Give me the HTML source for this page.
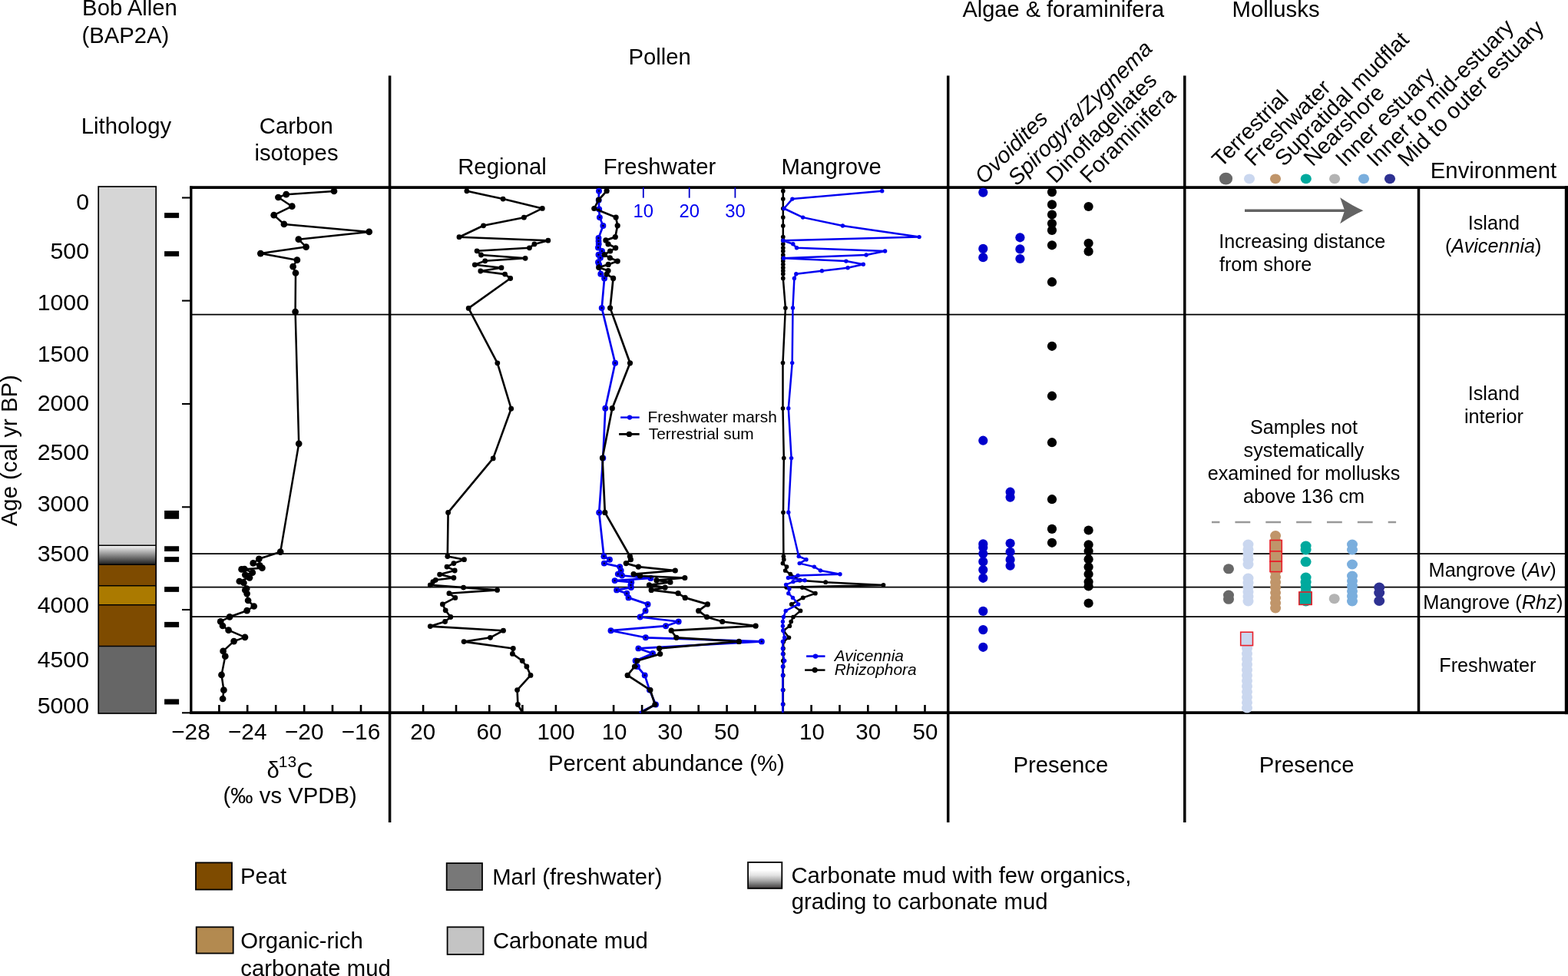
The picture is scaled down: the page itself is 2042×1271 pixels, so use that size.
<!DOCTYPE html><html><head><meta charset="utf-8"><title>Bob Allen BAP2A</title><style>html,body{margin:0;padding:0;background:#fff;}svg{display:block;}text{font-family:"Liberation Sans", Arial, Helvetica, sans-serif;}</style></head><body>
<svg width="2042" height="1271" viewBox="0 0 2042 1271">
<defs><linearGradient id="gr1" x1="0" y1="0" x2="0" y2="1"><stop offset="0" stop-color="#f8f8f8"/><stop offset="0.3" stop-color="#b8b8b8"/><stop offset="0.65" stop-color="#6a6a6a"/><stop offset="1" stop-color="#1e1e1e"/></linearGradient><linearGradient id="gr2" x1="0" y1="0" x2="0" y2="1"><stop offset="0" stop-color="#ffffff"/><stop offset="0.3" stop-color="#ffffff"/><stop offset="0.5" stop-color="#e2e2e2"/><stop offset="0.7" stop-color="#aaaaaa"/><stop offset="0.85" stop-color="#737373"/><stop offset="1" stop-color="#3c3838"/></linearGradient></defs>
<rect width="2042" height="1271" fill="#fff"/>
<text x="107.1" y="20.4" font-size="29.3" fill="#000">Bob Allen</text>
<text x="106.38" y="55.5" font-size="29.3" fill="#000">(BAP2A)</text>
<text x="105.8" y="174.4" font-size="29.3" fill="#000">Lithology</text>
<text x="385.8" y="174.4" font-size="29.3" text-anchor="middle" fill="#000">Carbon</text>
<text x="386" y="208.8" font-size="29.3" text-anchor="middle" fill="#000">isotopes</text>
<text x="818.4" y="84.2" font-size="29.3" fill="#000">Pollen</text>
<text x="596.2" y="227" font-size="29.3" fill="#000">Regional</text>
<text x="785.7" y="227" font-size="29.3" fill="#000">Freshwater</text>
<text x="1017.6" y="227" font-size="29.3" fill="#000">Mangrove</text>
<text x="1253.44" y="22.2" font-size="29.0" fill="#000">Algae &amp; foraminifera</text>
<text x="1604.6" y="22.2" font-size="29.3" fill="#000">Mollusks</text>
<text x="1862.8" y="231.9" font-size="29.3" fill="#000">Environment</text>
<rect x="128.2" y="243" width="75" height="467.3" fill="#d6d6d6" stroke="none" stroke-width="0"/>
<rect x="128.2" y="710.3" width="75" height="24.9" fill="url(#gr1)" stroke="none" stroke-width="0"/>
<rect x="128.2" y="735.2" width="75" height="27.6" fill="#7e4b00" stroke="none" stroke-width="0"/>
<rect x="128.2" y="762.8" width="75" height="25" fill="#ab7a00" stroke="none" stroke-width="0"/>
<rect x="128.2" y="787.8" width="75" height="53.7" fill="#7e4b00" stroke="none" stroke-width="0"/>
<rect x="128.2" y="841.5" width="75" height="87.5" fill="#666666" stroke="none" stroke-width="0"/>
<line x1="128.2" y1="710.3" x2="203.2" y2="710.3" stroke="#000" stroke-width="1.6"/>
<line x1="128.2" y1="735.2" x2="203.2" y2="735.2" stroke="#000" stroke-width="1.6"/>
<line x1="128.2" y1="762.8" x2="203.2" y2="762.8" stroke="#000" stroke-width="1.6"/>
<line x1="128.2" y1="787.8" x2="203.2" y2="787.8" stroke="#000" stroke-width="1.6"/>
<line x1="128.2" y1="841.5" x2="203.2" y2="841.5" stroke="#000" stroke-width="1.6"/>
<rect x="128.2" y="243" width="75" height="686" fill="none" stroke="#000" stroke-width="1.7"/>
<rect x="214.1" y="277.15" width="19" height="6.7" fill="#000" stroke="none" stroke-width="0"/>
<rect x="214.1" y="327.15" width="19" height="6.7" fill="#000" stroke="none" stroke-width="0"/>
<rect x="214.1" y="664.9" width="19" height="10.9" fill="#000" stroke="none" stroke-width="0"/>
<rect x="214.1" y="711.25" width="19" height="6.8" fill="#000" stroke="none" stroke-width="0"/>
<rect x="214.1" y="725.15" width="19" height="6.7" fill="#000" stroke="none" stroke-width="0"/>
<rect x="214.1" y="764.15" width="19" height="6.7" fill="#000" stroke="none" stroke-width="0"/>
<rect x="214.1" y="809.9" width="19" height="7" fill="#000" stroke="none" stroke-width="0"/>
<rect x="214.1" y="910.4" width="19" height="7" fill="#000" stroke="none" stroke-width="0"/>
<text x="116.08" y="272.5" font-size="30.3" text-anchor="end" fill="#000">0</text>
<text x="116.08" y="337.3" font-size="30.3" text-anchor="end" fill="#000">500</text>
<text x="116.08" y="404.4" font-size="30.3" text-anchor="end" fill="#000">1000</text>
<text x="116.08" y="470.9" font-size="30.3" text-anchor="end" fill="#000">1500</text>
<text x="116.08" y="535.2" font-size="30.3" text-anchor="end" fill="#000">2000</text>
<text x="116.08" y="599.4" font-size="30.3" text-anchor="end" fill="#000">2500</text>
<text x="116.08" y="666.1" font-size="30.3" text-anchor="end" fill="#000">3000</text>
<text x="116.08" y="730.6" font-size="30.3" text-anchor="end" fill="#000">3500</text>
<text x="116.08" y="797.9" font-size="30.3" text-anchor="end" fill="#000">4000</text>
<text x="116.08" y="868.6" font-size="30.3" text-anchor="end" fill="#000">4500</text>
<text x="116.08" y="929" font-size="30.3" text-anchor="end" fill="#000">5000</text>
<text x="0" y="0" font-size="29.3" text-anchor="middle" transform="translate(21.7,586.7) rotate(-90)">Age (cal yr BP)</text>
<line x1="237" y1="257.5" x2="249.5" y2="257.5" stroke="#000" stroke-width="2.1"/>
<line x1="237" y1="391.6" x2="249.5" y2="391.6" stroke="#000" stroke-width="2.1"/>
<line x1="237" y1="526" x2="249.5" y2="526" stroke="#000" stroke-width="2.1"/>
<line x1="237" y1="660.3" x2="249.5" y2="660.3" stroke="#000" stroke-width="2.1"/>
<line x1="237" y1="794" x2="249.5" y2="794" stroke="#000" stroke-width="2.1"/>
<line x1="249.5" y1="409.7" x2="2039.5" y2="409.7" stroke="#000" stroke-width="1.75"/>
<line x1="249.5" y1="721" x2="2039.5" y2="721" stroke="#000" stroke-width="1.75"/>
<line x1="249.5" y1="764.7" x2="2039.5" y2="764.7" stroke="#000" stroke-width="1.75"/>
<line x1="249.5" y1="803" x2="2039.5" y2="803" stroke="#000" stroke-width="1.75"/>
<line x1="247.2" y1="244.2" x2="2042" y2="244.2" stroke="#000" stroke-width="3.7"/>
<line x1="237" y1="928.3" x2="248" y2="928.3" stroke="#000" stroke-width="2.1"/>
<line x1="247.2" y1="928.2" x2="2041.5" y2="928.2" stroke="#000" stroke-width="3.8"/>
<line x1="248.8" y1="242.6" x2="248.8" y2="929.8" stroke="#000" stroke-width="3.3"/>
<line x1="507.6" y1="98.5" x2="507.6" y2="1071" stroke="#000" stroke-width="3.5"/>
<line x1="1234.7" y1="98.5" x2="1234.7" y2="1071" stroke="#000" stroke-width="3.5"/>
<line x1="1542.8" y1="98.5" x2="1542.8" y2="1071" stroke="#000" stroke-width="3.5"/>
<line x1="1847.5" y1="243" x2="1847.5" y2="929.5" stroke="#000" stroke-width="3.5"/>
<rect x="2037.8" y="242.4" width="4.5" height="687.8" fill="#000" stroke="none" stroke-width="0"/>
<polyline points="435,248.9 372.7,253.2 362.4,257 380.3,268.7 356.7,280.2 369.9,291.9 480.7,301.9 388.8,311.7 398.6,321.6 339.3,330.1 386.9,338.7 381.6,347.2 385,355.5 384.6,406.1 389.2,577.8 365.2,718.7 337.3,727.8 329.7,733.4 338.2,736.3 341.4,739.7 314.6,741.4 318.4,741 328.8,745.7 319.3,748.6 325,752.3 311.8,757 317.4,759 321.2,766.5 319.3,768.4 321.6,773.1 323.1,782 330.7,789.5 321.6,795.2 299.1,803.3 287.2,809.4 290,815 297.6,820.7 319,829.8 304.6,835.1 290.6,847.9 293.3,854.7 288.5,878.9 291.4,898.7 290.1,910" fill="none" stroke="#000" stroke-width="2.5" stroke-linejoin="round"/>
<circle cx="435" cy="248.9" r="4.35" fill="#000"/>
<circle cx="372.7" cy="253.2" r="4.35" fill="#000"/>
<circle cx="362.4" cy="257" r="4.35" fill="#000"/>
<circle cx="380.3" cy="268.7" r="4.35" fill="#000"/>
<circle cx="356.7" cy="280.2" r="4.35" fill="#000"/>
<circle cx="369.9" cy="291.9" r="4.35" fill="#000"/>
<circle cx="480.7" cy="301.9" r="4.35" fill="#000"/>
<circle cx="388.8" cy="311.7" r="4.35" fill="#000"/>
<circle cx="398.6" cy="321.6" r="4.35" fill="#000"/>
<circle cx="339.3" cy="330.1" r="4.35" fill="#000"/>
<circle cx="386.9" cy="338.7" r="4.35" fill="#000"/>
<circle cx="381.6" cy="347.2" r="4.35" fill="#000"/>
<circle cx="385" cy="355.5" r="4.35" fill="#000"/>
<circle cx="384.6" cy="406.1" r="4.35" fill="#000"/>
<circle cx="389.2" cy="577.8" r="4.35" fill="#000"/>
<circle cx="365.2" cy="718.7" r="4.35" fill="#000"/>
<circle cx="337.3" cy="727.8" r="4.35" fill="#000"/>
<circle cx="329.7" cy="733.4" r="4.35" fill="#000"/>
<circle cx="338.2" cy="736.3" r="4.35" fill="#000"/>
<circle cx="341.4" cy="739.7" r="4.35" fill="#000"/>
<circle cx="314.6" cy="741.4" r="4.35" fill="#000"/>
<circle cx="318.4" cy="741" r="4.35" fill="#000"/>
<circle cx="328.8" cy="745.7" r="4.35" fill="#000"/>
<circle cx="319.3" cy="748.6" r="4.35" fill="#000"/>
<circle cx="325" cy="752.3" r="4.35" fill="#000"/>
<circle cx="311.8" cy="757" r="4.35" fill="#000"/>
<circle cx="317.4" cy="759" r="4.35" fill="#000"/>
<circle cx="321.2" cy="766.5" r="4.35" fill="#000"/>
<circle cx="319.3" cy="768.4" r="4.35" fill="#000"/>
<circle cx="321.6" cy="773.1" r="4.35" fill="#000"/>
<circle cx="323.1" cy="782" r="4.35" fill="#000"/>
<circle cx="330.7" cy="789.5" r="4.35" fill="#000"/>
<circle cx="321.6" cy="795.2" r="4.35" fill="#000"/>
<circle cx="299.1" cy="803.3" r="4.35" fill="#000"/>
<circle cx="287.2" cy="809.4" r="4.35" fill="#000"/>
<circle cx="290" cy="815" r="4.35" fill="#000"/>
<circle cx="297.6" cy="820.7" r="4.35" fill="#000"/>
<circle cx="319" cy="829.8" r="4.35" fill="#000"/>
<circle cx="304.6" cy="835.1" r="4.35" fill="#000"/>
<circle cx="290.6" cy="847.9" r="4.35" fill="#000"/>
<circle cx="293.3" cy="854.7" r="4.35" fill="#000"/>
<circle cx="288.5" cy="878.9" r="4.35" fill="#000"/>
<circle cx="291.4" cy="898.7" r="4.35" fill="#000"/>
<circle cx="290.1" cy="910" r="4.35" fill="#000"/>
<line x1="285.4" y1="918" x2="285.4" y2="928" stroke="#000" stroke-width="2.6"/>
<line x1="322.2" y1="918" x2="322.2" y2="928" stroke="#000" stroke-width="2.6"/>
<line x1="359.2" y1="918" x2="359.2" y2="928" stroke="#000" stroke-width="2.6"/>
<line x1="396.2" y1="918" x2="396.2" y2="928" stroke="#000" stroke-width="2.6"/>
<line x1="433" y1="918" x2="433" y2="928" stroke="#000" stroke-width="2.6"/>
<line x1="470" y1="918" x2="470" y2="928" stroke="#000" stroke-width="2.6"/>
<text x="248.5" y="963.3" font-size="29.8" text-anchor="middle" fill="#000">−28</text>
<text x="322.2" y="963.3" font-size="29.8" text-anchor="middle" fill="#000">−24</text>
<text x="396.2" y="963.3" font-size="29.8" text-anchor="middle" fill="#000">−20</text>
<text x="470" y="963.3" font-size="29.8" text-anchor="middle" fill="#000">−16</text>
<text x="347.6" y="1013.2" font-size="29.3">δ</text>
<text x="362.8" y="999.2" font-size="21">13</text>
<text x="386.5" y="1013.2" font-size="29.3">C</text>
<text x="377.7" y="1046" font-size="29.3" text-anchor="middle" fill="#000">(‰ vs VPDB)</text>
<polyline points="607.9,248.8 655.1,259.1 706.3,271.4 682.4,283.2 629.6,293.8 598,308.7 713.8,313.2 695.9,317.9 689.5,322.8 621.1,326.8 626.5,332 684.1,336.3 631.7,339.8 618.3,344.8 653,348.7 625.8,353 657.6,357.1 664.7,362.5 610.2,401.4 647.8,472.8 665.7,532.2 642.2,596.9 583.6,667.4 582.8,724.5 604.5,728.7 590.9,733.6 582,738.1 592.2,743 572.6,748.1 590.9,752.5 567.3,755.3 563.9,757.6 560.3,761.9 603.6,765.1 647.6,768.4 584.9,772.7 592.8,778.4 576.4,786.9 580.2,794.8 586.8,803.5 579.6,809.5 560.3,815.6 655.5,821.2 638.5,830.3 604.1,835.6 668.3,844.5 667.4,851.4 680.2,860.5 685.9,868 691,879.4 673.6,898.6 674.4,917.5 679.7,927" fill="none" stroke="#000" stroke-width="2.6" stroke-linejoin="round"/>
<circle cx="607.9" cy="248.8" r="3.4" fill="#000"/>
<circle cx="655.1" cy="259.1" r="3.4" fill="#000"/>
<circle cx="706.3" cy="271.4" r="3.4" fill="#000"/>
<circle cx="682.4" cy="283.2" r="3.4" fill="#000"/>
<circle cx="629.6" cy="293.8" r="3.4" fill="#000"/>
<circle cx="598" cy="308.7" r="3.4" fill="#000"/>
<circle cx="713.8" cy="313.2" r="3.4" fill="#000"/>
<circle cx="695.9" cy="317.9" r="3.4" fill="#000"/>
<circle cx="689.5" cy="322.8" r="3.4" fill="#000"/>
<circle cx="621.1" cy="326.8" r="3.4" fill="#000"/>
<circle cx="626.5" cy="332" r="3.4" fill="#000"/>
<circle cx="684.1" cy="336.3" r="3.4" fill="#000"/>
<circle cx="631.7" cy="339.8" r="3.4" fill="#000"/>
<circle cx="618.3" cy="344.8" r="3.4" fill="#000"/>
<circle cx="653" cy="348.7" r="3.4" fill="#000"/>
<circle cx="625.8" cy="353" r="3.4" fill="#000"/>
<circle cx="657.6" cy="357.1" r="3.4" fill="#000"/>
<circle cx="664.7" cy="362.5" r="3.4" fill="#000"/>
<circle cx="610.2" cy="401.4" r="3.4" fill="#000"/>
<circle cx="647.8" cy="472.8" r="3.4" fill="#000"/>
<circle cx="665.7" cy="532.2" r="3.4" fill="#000"/>
<circle cx="642.2" cy="596.9" r="3.4" fill="#000"/>
<circle cx="583.6" cy="667.4" r="3.4" fill="#000"/>
<circle cx="582.8" cy="724.5" r="3.4" fill="#000"/>
<circle cx="604.5" cy="728.7" r="3.4" fill="#000"/>
<circle cx="590.9" cy="733.6" r="3.4" fill="#000"/>
<circle cx="582" cy="738.1" r="3.4" fill="#000"/>
<circle cx="592.2" cy="743" r="3.4" fill="#000"/>
<circle cx="572.6" cy="748.1" r="3.4" fill="#000"/>
<circle cx="590.9" cy="752.5" r="3.4" fill="#000"/>
<circle cx="567.3" cy="755.3" r="3.4" fill="#000"/>
<circle cx="563.9" cy="757.6" r="3.4" fill="#000"/>
<circle cx="560.3" cy="761.9" r="3.4" fill="#000"/>
<circle cx="603.6" cy="765.1" r="3.4" fill="#000"/>
<circle cx="647.6" cy="768.4" r="3.4" fill="#000"/>
<circle cx="584.9" cy="772.7" r="3.4" fill="#000"/>
<circle cx="592.8" cy="778.4" r="3.4" fill="#000"/>
<circle cx="576.4" cy="786.9" r="3.4" fill="#000"/>
<circle cx="580.2" cy="794.8" r="3.4" fill="#000"/>
<circle cx="586.8" cy="803.5" r="3.4" fill="#000"/>
<circle cx="579.6" cy="809.5" r="3.4" fill="#000"/>
<circle cx="560.3" cy="815.6" r="3.4" fill="#000"/>
<circle cx="655.5" cy="821.2" r="3.4" fill="#000"/>
<circle cx="638.5" cy="830.3" r="3.4" fill="#000"/>
<circle cx="604.1" cy="835.6" r="3.4" fill="#000"/>
<circle cx="668.3" cy="844.5" r="3.4" fill="#000"/>
<circle cx="667.4" cy="851.4" r="3.4" fill="#000"/>
<circle cx="680.2" cy="860.5" r="3.4" fill="#000"/>
<circle cx="685.9" cy="868" r="3.4" fill="#000"/>
<circle cx="691" cy="879.4" r="3.4" fill="#000"/>
<circle cx="673.6" cy="898.6" r="3.4" fill="#000"/>
<circle cx="674.4" cy="917.5" r="3.4" fill="#000"/>
<polyline points="780,248.7 779.7,260.8 780.2,272.5 780.9,283.1 785.4,294 779.5,310 779.5,313.9 779.7,317.8 779,322.5 784,327 779.5,331.7 781.9,335.8 779,341.5 780.2,344.7 782.3,356.8 787.1,362.4 783.7,401.1 801.1,472.8 788.3,531.7 785.3,596.4 780.2,667.4 786.4,724.5 794,728.7 786.8,733.6 807.2,738.1 808.7,743 804.8,747.6 810,749.5 847.4,752.9 800.6,756.1 822.3,758.2 821.4,761.9 821.9,765.1 803.1,768.4 816.3,772.7 818.5,778.4 843.6,786.9 840.6,795.4 833.6,803.5 883.7,809.5 867.1,815.2 795.5,821.2 840.8,830.3 991.9,835.4 831.4,844.4 850.1,851 827.6,860.5 829.9,868 839.7,879.4 845.9,898.6 854,917.5 832.7,928" fill="none" stroke="#0000f0" stroke-width="2.7" stroke-linejoin="round"/>
<circle cx="780" cy="248.7" r="3.95" fill="#0000f0"/>
<circle cx="779.7" cy="260.8" r="3.95" fill="#0000f0"/>
<circle cx="780.2" cy="272.5" r="3.95" fill="#0000f0"/>
<circle cx="780.9" cy="283.1" r="3.95" fill="#0000f0"/>
<circle cx="785.4" cy="294" r="3.95" fill="#0000f0"/>
<circle cx="779.5" cy="310" r="3.95" fill="#0000f0"/>
<circle cx="779.5" cy="313.9" r="3.95" fill="#0000f0"/>
<circle cx="779.7" cy="317.8" r="3.95" fill="#0000f0"/>
<circle cx="779" cy="322.5" r="3.95" fill="#0000f0"/>
<circle cx="784" cy="327" r="3.95" fill="#0000f0"/>
<circle cx="779.5" cy="331.7" r="3.95" fill="#0000f0"/>
<circle cx="781.9" cy="335.8" r="3.95" fill="#0000f0"/>
<circle cx="779" cy="341.5" r="3.95" fill="#0000f0"/>
<circle cx="780.2" cy="344.7" r="3.95" fill="#0000f0"/>
<circle cx="782.3" cy="356.8" r="3.95" fill="#0000f0"/>
<circle cx="787.1" cy="362.4" r="3.95" fill="#0000f0"/>
<circle cx="783.7" cy="401.1" r="3.95" fill="#0000f0"/>
<circle cx="801.1" cy="472.8" r="3.95" fill="#0000f0"/>
<circle cx="788.3" cy="531.7" r="3.95" fill="#0000f0"/>
<circle cx="785.3" cy="596.4" r="3.95" fill="#0000f0"/>
<circle cx="780.2" cy="667.4" r="3.95" fill="#0000f0"/>
<circle cx="786.4" cy="724.5" r="3.95" fill="#0000f0"/>
<circle cx="794" cy="728.7" r="3.95" fill="#0000f0"/>
<circle cx="786.8" cy="733.6" r="3.95" fill="#0000f0"/>
<circle cx="807.2" cy="738.1" r="3.95" fill="#0000f0"/>
<circle cx="808.7" cy="743" r="3.95" fill="#0000f0"/>
<circle cx="804.8" cy="747.6" r="3.95" fill="#0000f0"/>
<circle cx="810" cy="749.5" r="3.95" fill="#0000f0"/>
<circle cx="847.4" cy="752.9" r="3.95" fill="#0000f0"/>
<circle cx="800.6" cy="756.1" r="3.95" fill="#0000f0"/>
<circle cx="822.3" cy="758.2" r="3.95" fill="#0000f0"/>
<circle cx="821.4" cy="761.9" r="3.95" fill="#0000f0"/>
<circle cx="821.9" cy="765.1" r="3.95" fill="#0000f0"/>
<circle cx="803.1" cy="768.4" r="3.95" fill="#0000f0"/>
<circle cx="816.3" cy="772.7" r="3.95" fill="#0000f0"/>
<circle cx="818.5" cy="778.4" r="3.95" fill="#0000f0"/>
<circle cx="843.6" cy="786.9" r="3.95" fill="#0000f0"/>
<circle cx="840.6" cy="795.4" r="3.95" fill="#0000f0"/>
<circle cx="833.6" cy="803.5" r="3.95" fill="#0000f0"/>
<circle cx="883.7" cy="809.5" r="3.95" fill="#0000f0"/>
<circle cx="867.1" cy="815.2" r="3.95" fill="#0000f0"/>
<circle cx="795.5" cy="821.2" r="3.95" fill="#0000f0"/>
<circle cx="840.8" cy="830.3" r="3.95" fill="#0000f0"/>
<circle cx="991.9" cy="835.4" r="3.95" fill="#0000f0"/>
<circle cx="831.4" cy="844.4" r="3.95" fill="#0000f0"/>
<circle cx="850.1" cy="851" r="3.95" fill="#0000f0"/>
<circle cx="827.6" cy="860.5" r="3.95" fill="#0000f0"/>
<circle cx="829.9" cy="868" r="3.95" fill="#0000f0"/>
<circle cx="839.7" cy="879.4" r="3.95" fill="#0000f0"/>
<circle cx="845.9" cy="898.6" r="3.95" fill="#0000f0"/>
<circle cx="854" cy="917.5" r="3.95" fill="#0000f0"/>
<circle cx="780" cy="248.7" r="1.15" fill="#000018"/>
<circle cx="779.7" cy="260.8" r="1.15" fill="#000018"/>
<circle cx="780.2" cy="272.5" r="1.15" fill="#000018"/>
<circle cx="780.9" cy="283.1" r="1.15" fill="#000018"/>
<circle cx="785.4" cy="294" r="1.15" fill="#000018"/>
<circle cx="779.5" cy="310" r="1.15" fill="#000018"/>
<circle cx="779.5" cy="313.9" r="1.15" fill="#000018"/>
<circle cx="779.7" cy="317.8" r="1.15" fill="#000018"/>
<circle cx="779" cy="322.5" r="1.15" fill="#000018"/>
<circle cx="784" cy="327" r="1.15" fill="#000018"/>
<circle cx="779.5" cy="331.7" r="1.15" fill="#000018"/>
<circle cx="781.9" cy="335.8" r="1.15" fill="#000018"/>
<circle cx="779" cy="341.5" r="1.15" fill="#000018"/>
<circle cx="780.2" cy="344.7" r="1.15" fill="#000018"/>
<circle cx="782.3" cy="356.8" r="1.15" fill="#000018"/>
<circle cx="787.1" cy="362.4" r="1.15" fill="#000018"/>
<circle cx="783.7" cy="401.1" r="1.15" fill="#000018"/>
<circle cx="801.1" cy="472.8" r="1.15" fill="#000018"/>
<circle cx="788.3" cy="531.7" r="1.15" fill="#000018"/>
<circle cx="785.3" cy="596.4" r="1.15" fill="#000018"/>
<circle cx="780.2" cy="667.4" r="1.15" fill="#000018"/>
<circle cx="786.4" cy="724.5" r="1.15" fill="#000018"/>
<circle cx="794" cy="728.7" r="1.15" fill="#000018"/>
<circle cx="786.8" cy="733.6" r="1.15" fill="#000018"/>
<circle cx="807.2" cy="738.1" r="1.15" fill="#000018"/>
<circle cx="808.7" cy="743" r="1.15" fill="#000018"/>
<circle cx="804.8" cy="747.6" r="1.15" fill="#000018"/>
<circle cx="810" cy="749.5" r="1.15" fill="#000018"/>
<circle cx="847.4" cy="752.9" r="1.15" fill="#000018"/>
<circle cx="800.6" cy="756.1" r="1.15" fill="#000018"/>
<circle cx="822.3" cy="758.2" r="1.15" fill="#000018"/>
<circle cx="821.4" cy="761.9" r="1.15" fill="#000018"/>
<circle cx="821.9" cy="765.1" r="1.15" fill="#000018"/>
<circle cx="803.1" cy="768.4" r="1.15" fill="#000018"/>
<circle cx="816.3" cy="772.7" r="1.15" fill="#000018"/>
<circle cx="818.5" cy="778.4" r="1.15" fill="#000018"/>
<circle cx="843.6" cy="786.9" r="1.15" fill="#000018"/>
<circle cx="840.6" cy="795.4" r="1.15" fill="#000018"/>
<circle cx="833.6" cy="803.5" r="1.15" fill="#000018"/>
<circle cx="883.7" cy="809.5" r="1.15" fill="#000018"/>
<circle cx="867.1" cy="815.2" r="1.15" fill="#000018"/>
<circle cx="795.5" cy="821.2" r="1.15" fill="#000018"/>
<circle cx="840.8" cy="830.3" r="1.15" fill="#000018"/>
<circle cx="991.9" cy="835.4" r="1.15" fill="#000018"/>
<circle cx="831.4" cy="844.4" r="1.15" fill="#000018"/>
<circle cx="850.1" cy="851" r="1.15" fill="#000018"/>
<circle cx="827.6" cy="860.5" r="1.15" fill="#000018"/>
<circle cx="829.9" cy="868" r="1.15" fill="#000018"/>
<circle cx="839.7" cy="879.4" r="1.15" fill="#000018"/>
<circle cx="845.9" cy="898.6" r="1.15" fill="#000018"/>
<circle cx="854" cy="917.5" r="1.15" fill="#000018"/>
<polyline points="790.1,248.7 779.7,260.2 773.8,271.5 802.1,283.1 804.2,293.8 801.3,308.6 788.9,312.9 792,317.8 801.7,322.8 794.6,327 787.2,331.7 794.3,335.8 804.2,340.1 792.2,344.4 779.7,348.3 792,352.5 790.1,357.1 798.6,362.4 794.6,401.1 820.5,472.8 797.3,531.7 784.5,596.4 787.8,667.4 820.4,724.5 821.4,728.7 815.3,733.6 831.4,738.1 879.3,743 825.1,747.6 833.6,750 891.8,752.5 855,755.7 872.9,758.2 845.5,761.9 866.1,765.1 848.2,768.4 883.1,772.7 892.2,778.4 921.4,786.9 909.7,795.4 920.5,803.5 940.7,809.5 984.1,815.2 874.2,821.2 880.8,830.3 962.4,835.4 858.6,844.4 859.7,851.6 829.9,860.5 826.5,868 817.2,879.4 846.9,898.6 852.9,917.5 835.5,928" fill="none" stroke="#000" stroke-width="2.7" stroke-linejoin="round"/>
<circle cx="790.1" cy="248.7" r="3.6" fill="#000"/>
<circle cx="779.7" cy="260.2" r="3.6" fill="#000"/>
<circle cx="773.8" cy="271.5" r="3.6" fill="#000"/>
<circle cx="802.1" cy="283.1" r="3.6" fill="#000"/>
<circle cx="804.2" cy="293.8" r="3.6" fill="#000"/>
<circle cx="801.3" cy="308.6" r="3.6" fill="#000"/>
<circle cx="788.9" cy="312.9" r="3.6" fill="#000"/>
<circle cx="792" cy="317.8" r="3.6" fill="#000"/>
<circle cx="801.7" cy="322.8" r="3.6" fill="#000"/>
<circle cx="794.6" cy="327" r="3.6" fill="#000"/>
<circle cx="787.2" cy="331.7" r="3.6" fill="#000"/>
<circle cx="794.3" cy="335.8" r="3.6" fill="#000"/>
<circle cx="804.2" cy="340.1" r="3.6" fill="#000"/>
<circle cx="792.2" cy="344.4" r="3.6" fill="#000"/>
<circle cx="779.7" cy="348.3" r="3.6" fill="#000"/>
<circle cx="792" cy="352.5" r="3.6" fill="#000"/>
<circle cx="790.1" cy="357.1" r="3.6" fill="#000"/>
<circle cx="798.6" cy="362.4" r="3.6" fill="#000"/>
<circle cx="794.6" cy="401.1" r="3.6" fill="#000"/>
<circle cx="820.5" cy="472.8" r="3.6" fill="#000"/>
<circle cx="797.3" cy="531.7" r="3.6" fill="#000"/>
<circle cx="784.5" cy="596.4" r="3.6" fill="#000"/>
<circle cx="787.8" cy="667.4" r="3.6" fill="#000"/>
<circle cx="820.4" cy="724.5" r="3.6" fill="#000"/>
<circle cx="821.4" cy="728.7" r="3.6" fill="#000"/>
<circle cx="815.3" cy="733.6" r="3.6" fill="#000"/>
<circle cx="831.4" cy="738.1" r="3.6" fill="#000"/>
<circle cx="879.3" cy="743" r="3.6" fill="#000"/>
<circle cx="825.1" cy="747.6" r="3.6" fill="#000"/>
<circle cx="833.6" cy="750" r="3.6" fill="#000"/>
<circle cx="891.8" cy="752.5" r="3.6" fill="#000"/>
<circle cx="855" cy="755.7" r="3.6" fill="#000"/>
<circle cx="872.9" cy="758.2" r="3.6" fill="#000"/>
<circle cx="845.5" cy="761.9" r="3.6" fill="#000"/>
<circle cx="866.1" cy="765.1" r="3.6" fill="#000"/>
<circle cx="848.2" cy="768.4" r="3.6" fill="#000"/>
<circle cx="883.1" cy="772.7" r="3.6" fill="#000"/>
<circle cx="892.2" cy="778.4" r="3.6" fill="#000"/>
<circle cx="921.4" cy="786.9" r="3.6" fill="#000"/>
<circle cx="909.7" cy="795.4" r="3.6" fill="#000"/>
<circle cx="920.5" cy="803.5" r="3.6" fill="#000"/>
<circle cx="940.7" cy="809.5" r="3.6" fill="#000"/>
<circle cx="984.1" cy="815.2" r="3.6" fill="#000"/>
<circle cx="874.2" cy="821.2" r="3.6" fill="#000"/>
<circle cx="880.8" cy="830.3" r="3.6" fill="#000"/>
<circle cx="962.4" cy="835.4" r="3.6" fill="#000"/>
<circle cx="858.6" cy="844.4" r="3.6" fill="#000"/>
<circle cx="859.7" cy="851.6" r="3.6" fill="#000"/>
<circle cx="829.9" cy="860.5" r="3.6" fill="#000"/>
<circle cx="826.5" cy="868" r="3.6" fill="#000"/>
<circle cx="817.2" cy="879.4" r="3.6" fill="#000"/>
<circle cx="846.9" cy="898.6" r="3.6" fill="#000"/>
<circle cx="852.9" cy="917.5" r="3.6" fill="#000"/>
<line x1="837.8" y1="244" x2="837.8" y2="257.7" stroke="#0000cc" stroke-width="1.8"/>
<text x="837.8" y="283.1" font-size="23.8" text-anchor="middle" fill="#0000f0">10</text>
<line x1="897.7" y1="244" x2="897.7" y2="257.7" stroke="#0000cc" stroke-width="1.8"/>
<text x="897.7" y="283.1" font-size="23.8" text-anchor="middle" fill="#0000f0">20</text>
<line x1="957.4" y1="244" x2="957.4" y2="257.7" stroke="#0000cc" stroke-width="1.8"/>
<text x="957.4" y="283.1" font-size="23.8" text-anchor="middle" fill="#0000f0">30</text>
<line x1="808.1" y1="543.6" x2="832.7" y2="543.6" stroke="#0000f0" stroke-width="2.4"/>
<circle cx="820" cy="543.6" r="3.15" fill="#0000f0"/>
<line x1="806.1" y1="565.4" x2="832.7" y2="565.4" stroke="#000" stroke-width="2.75"/>
<circle cx="819.4" cy="565.4" r="3.7" fill="#000"/>
<text x="843.49" y="550.3" font-size="20.9" fill="#000">Freshwater marsh</text>
<text x="844.73" y="572" font-size="20.9" fill="#000">Terrestrial sum</text>
<polyline points="1019.8,248.7 1019.8,259.1 1019.8,271.5 1019.8,283.1 1019.8,294 1019.8,308.6 1019.8,313.2 1019.8,317.8 1019.8,322.8 1019.8,327 1019.8,332 1019.8,336.2 1019.8,340.1 1019.8,344.3 1019.8,348.7 1019.8,352.8 1019.8,356.8 1019.8,362.4 1022.9,401 1019.5,472.6 1019.5,531.8 1020.8,596.6 1020,667.3 1020.4,724.5 1020.8,728.7 1019.4,733.6 1024.5,738.1 1022.7,743 1029.3,747.6 1041.5,755.7 1075.2,758.2 1150.5,761.9 1024.2,764.8 1044.8,765.1 1061.9,772.7 1045.7,778.4 1030.8,786.9 1042.5,795.4 1033,803.5 1030.2,809.5 1028.3,815.2 1020.4,821.2 1027.4,830.3 1020.4,835.4 1020,844.4 1020,851.6 1019.8,860.5 1019.8,868 1019.8,879.4 1019.8,898.6 1019.8,917.1 1019.8,928" fill="none" stroke="#000" stroke-width="2.5" stroke-linejoin="round"/>
<circle cx="1019.8" cy="248.7" r="2.85" fill="#000"/>
<circle cx="1019.8" cy="259.1" r="2.85" fill="#000"/>
<circle cx="1019.8" cy="271.5" r="2.85" fill="#000"/>
<circle cx="1019.8" cy="283.1" r="2.85" fill="#000"/>
<circle cx="1019.8" cy="294" r="2.85" fill="#000"/>
<circle cx="1019.8" cy="308.6" r="2.85" fill="#000"/>
<circle cx="1019.8" cy="313.2" r="2.85" fill="#000"/>
<circle cx="1019.8" cy="317.8" r="2.85" fill="#000"/>
<circle cx="1019.8" cy="322.8" r="2.85" fill="#000"/>
<circle cx="1019.8" cy="327" r="2.85" fill="#000"/>
<circle cx="1019.8" cy="332" r="2.85" fill="#000"/>
<circle cx="1019.8" cy="336.2" r="2.85" fill="#000"/>
<circle cx="1019.8" cy="340.1" r="2.85" fill="#000"/>
<circle cx="1019.8" cy="344.3" r="2.85" fill="#000"/>
<circle cx="1019.8" cy="348.7" r="2.85" fill="#000"/>
<circle cx="1019.8" cy="352.8" r="2.85" fill="#000"/>
<circle cx="1019.8" cy="356.8" r="2.85" fill="#000"/>
<circle cx="1019.8" cy="362.4" r="2.85" fill="#000"/>
<circle cx="1022.9" cy="401" r="2.85" fill="#000"/>
<circle cx="1019.5" cy="472.6" r="2.85" fill="#000"/>
<circle cx="1019.5" cy="531.8" r="2.85" fill="#000"/>
<circle cx="1020.8" cy="596.6" r="2.85" fill="#000"/>
<circle cx="1020" cy="667.3" r="2.85" fill="#000"/>
<circle cx="1020.4" cy="724.5" r="2.85" fill="#000"/>
<circle cx="1020.8" cy="728.7" r="2.85" fill="#000"/>
<circle cx="1019.4" cy="733.6" r="2.85" fill="#000"/>
<circle cx="1024.5" cy="738.1" r="2.85" fill="#000"/>
<circle cx="1022.7" cy="743" r="2.85" fill="#000"/>
<circle cx="1029.3" cy="747.6" r="2.85" fill="#000"/>
<circle cx="1041.5" cy="755.7" r="2.85" fill="#000"/>
<circle cx="1075.2" cy="758.2" r="2.85" fill="#000"/>
<circle cx="1150.5" cy="761.9" r="2.85" fill="#000"/>
<circle cx="1024.2" cy="764.8" r="2.85" fill="#000"/>
<circle cx="1044.8" cy="765.1" r="2.85" fill="#000"/>
<circle cx="1061.9" cy="772.7" r="2.85" fill="#000"/>
<circle cx="1045.7" cy="778.4" r="2.85" fill="#000"/>
<circle cx="1030.8" cy="786.9" r="2.85" fill="#000"/>
<circle cx="1042.5" cy="795.4" r="2.85" fill="#000"/>
<circle cx="1033" cy="803.5" r="2.85" fill="#000"/>
<circle cx="1030.2" cy="809.5" r="2.85" fill="#000"/>
<circle cx="1028.3" cy="815.2" r="2.85" fill="#000"/>
<circle cx="1020.4" cy="821.2" r="2.85" fill="#000"/>
<circle cx="1027.4" cy="830.3" r="2.85" fill="#000"/>
<circle cx="1020.4" cy="835.4" r="2.85" fill="#000"/>
<circle cx="1020" cy="844.4" r="2.85" fill="#000"/>
<circle cx="1020" cy="851.6" r="2.85" fill="#000"/>
<circle cx="1019.8" cy="860.5" r="2.85" fill="#000"/>
<circle cx="1019.8" cy="868" r="2.85" fill="#000"/>
<circle cx="1019.8" cy="879.4" r="2.85" fill="#000"/>
<circle cx="1019.8" cy="898.6" r="2.85" fill="#000"/>
<circle cx="1019.8" cy="917.1" r="2.85" fill="#000"/>
<polyline points="1148.7,248.7 1031.9,259.1 1021,271.5 1045.6,283.1 1097.4,294 1197.1,308.6 1019.8,313.2 1032.8,317.8 1037.5,322.8 1152.6,327 1128.1,332 1020.5,336.2 1101.9,340.1 1124.3,344.3 1104.1,348.7 1070.4,352.8 1036.8,356.8 1034.4,362.4 1032.5,401 1031.7,472.6 1026.8,531.8 1030.6,596.6 1026.8,667.3 1040.2,724.5 1050,728.7 1041.2,733.6 1060.4,738.1 1068.4,743 1094,747.8 1039.1,749.5 1026.4,752.5 1048.1,755.7 1033,757.6 1023.6,761.4 1027.9,767 1026.8,772.7 1032.5,778.4 1039.7,786.9 1023.2,795.4 1020.4,803.5 1019.4,809.5 1019.4,815.2 1019.8,821.2 1021.7,830.3 1019.4,835.4 1019.4,844.4 1019.4,851.6 1021.7,860.5 1019.4,868 1019.4,879.4 1019.4,898.6 1019.4,917.1 1019.4,928" fill="none" stroke="#0000f0" stroke-width="2.5" stroke-linejoin="round"/>
<circle cx="1148.7" cy="248.7" r="2.7" fill="#0000f0"/>
<circle cx="1031.9" cy="259.1" r="2.7" fill="#0000f0"/>
<circle cx="1021" cy="271.5" r="2.7" fill="#0000f0"/>
<circle cx="1045.6" cy="283.1" r="2.7" fill="#0000f0"/>
<circle cx="1097.4" cy="294" r="2.7" fill="#0000f0"/>
<circle cx="1197.1" cy="308.6" r="2.7" fill="#0000f0"/>
<circle cx="1019.8" cy="313.2" r="2.7" fill="#0000f0"/>
<circle cx="1032.8" cy="317.8" r="2.7" fill="#0000f0"/>
<circle cx="1037.5" cy="322.8" r="2.7" fill="#0000f0"/>
<circle cx="1152.6" cy="327" r="2.7" fill="#0000f0"/>
<circle cx="1128.1" cy="332" r="2.7" fill="#0000f0"/>
<circle cx="1020.5" cy="336.2" r="2.7" fill="#0000f0"/>
<circle cx="1101.9" cy="340.1" r="2.7" fill="#0000f0"/>
<circle cx="1124.3" cy="344.3" r="2.7" fill="#0000f0"/>
<circle cx="1104.1" cy="348.7" r="2.7" fill="#0000f0"/>
<circle cx="1070.4" cy="352.8" r="2.7" fill="#0000f0"/>
<circle cx="1036.8" cy="356.8" r="2.7" fill="#0000f0"/>
<circle cx="1034.4" cy="362.4" r="2.7" fill="#0000f0"/>
<circle cx="1032.5" cy="401" r="2.7" fill="#0000f0"/>
<circle cx="1031.7" cy="472.6" r="2.7" fill="#0000f0"/>
<circle cx="1026.8" cy="531.8" r="2.7" fill="#0000f0"/>
<circle cx="1030.6" cy="596.6" r="2.7" fill="#0000f0"/>
<circle cx="1026.8" cy="667.3" r="2.7" fill="#0000f0"/>
<circle cx="1040.2" cy="724.5" r="2.7" fill="#0000f0"/>
<circle cx="1050" cy="728.7" r="2.7" fill="#0000f0"/>
<circle cx="1041.2" cy="733.6" r="2.7" fill="#0000f0"/>
<circle cx="1060.4" cy="738.1" r="2.7" fill="#0000f0"/>
<circle cx="1068.4" cy="743" r="2.7" fill="#0000f0"/>
<circle cx="1094" cy="747.8" r="2.7" fill="#0000f0"/>
<circle cx="1039.1" cy="749.5" r="2.7" fill="#0000f0"/>
<circle cx="1026.4" cy="752.5" r="2.7" fill="#0000f0"/>
<circle cx="1048.1" cy="755.7" r="2.7" fill="#0000f0"/>
<circle cx="1033" cy="757.6" r="2.7" fill="#0000f0"/>
<circle cx="1023.6" cy="761.4" r="2.7" fill="#0000f0"/>
<circle cx="1027.9" cy="767" r="2.7" fill="#0000f0"/>
<circle cx="1026.8" cy="772.7" r="2.7" fill="#0000f0"/>
<circle cx="1032.5" cy="778.4" r="2.7" fill="#0000f0"/>
<circle cx="1039.7" cy="786.9" r="2.7" fill="#0000f0"/>
<circle cx="1023.2" cy="795.4" r="2.7" fill="#0000f0"/>
<circle cx="1020.4" cy="803.5" r="2.7" fill="#0000f0"/>
<circle cx="1019.4" cy="809.5" r="2.7" fill="#0000f0"/>
<circle cx="1019.4" cy="815.2" r="2.7" fill="#0000f0"/>
<circle cx="1019.8" cy="821.2" r="2.7" fill="#0000f0"/>
<circle cx="1021.7" cy="830.3" r="2.7" fill="#0000f0"/>
<circle cx="1019.4" cy="835.4" r="2.7" fill="#0000f0"/>
<circle cx="1019.4" cy="844.4" r="2.7" fill="#0000f0"/>
<circle cx="1019.4" cy="851.6" r="2.7" fill="#0000f0"/>
<circle cx="1021.7" cy="860.5" r="2.7" fill="#0000f0"/>
<circle cx="1019.4" cy="868" r="2.7" fill="#0000f0"/>
<circle cx="1019.4" cy="879.4" r="2.7" fill="#0000f0"/>
<circle cx="1019.4" cy="898.6" r="2.7" fill="#0000f0"/>
<circle cx="1019.4" cy="917.1" r="2.7" fill="#0000f0"/>
<line x1="1056.6" y1="918" x2="1056.6" y2="928" stroke="#000" stroke-width="2.6"/>
<line x1="1093.5" y1="918" x2="1093.5" y2="928" stroke="#000" stroke-width="2.6"/>
<line x1="1130.3" y1="918" x2="1130.3" y2="928" stroke="#000" stroke-width="2.6"/>
<line x1="1167.1" y1="918" x2="1167.1" y2="928" stroke="#000" stroke-width="2.6"/>
<line x1="1204.5" y1="918" x2="1204.5" y2="928" stroke="#000" stroke-width="2.6"/>
<line x1="1050.1" y1="854.6" x2="1074.5" y2="854.6" stroke="#0000f0" stroke-width="2.6"/>
<circle cx="1062" cy="854.6" r="3.2" fill="#0000f0"/>
<line x1="1048.1" y1="872.6" x2="1074.5" y2="872.6" stroke="#000" stroke-width="2.5"/>
<circle cx="1061.2" cy="872.6" r="3.55" fill="#000"/>
<text x="1086.73" y="860.7" font-size="20.9" font-style="italic" fill="#000">Avicennia</text>
<text x="1086.76" y="879.4" font-size="20.9" font-style="italic" fill="#000">Rhizophora</text>
<line x1="551.1" y1="918" x2="551.1" y2="928" stroke="#000" stroke-width="2.6"/>
<line x1="594" y1="918" x2="594" y2="928" stroke="#000" stroke-width="2.6"/>
<line x1="637.3" y1="918" x2="637.3" y2="928" stroke="#000" stroke-width="2.6"/>
<line x1="680.4" y1="918" x2="680.4" y2="928" stroke="#000" stroke-width="2.6"/>
<line x1="723.9" y1="918" x2="723.9" y2="928" stroke="#000" stroke-width="2.6"/>
<line x1="799.1" y1="918" x2="799.1" y2="928" stroke="#000" stroke-width="2.6"/>
<line x1="836.1" y1="918" x2="836.1" y2="928" stroke="#000" stroke-width="2.6"/>
<line x1="872.9" y1="918" x2="872.9" y2="928" stroke="#000" stroke-width="2.6"/>
<line x1="909.7" y1="918" x2="909.7" y2="928" stroke="#000" stroke-width="2.6"/>
<line x1="946.6" y1="918" x2="946.6" y2="928" stroke="#000" stroke-width="2.6"/>
<line x1="983.4" y1="918" x2="983.4" y2="928" stroke="#000" stroke-width="2.6"/>
<text x="550.7" y="963.4" font-size="29.5" text-anchor="middle" fill="#000">20</text>
<text x="637" y="963.4" font-size="29.5" text-anchor="middle" fill="#000">60</text>
<text x="724" y="963.4" font-size="29.5" text-anchor="middle" fill="#000">100</text>
<text x="800.1" y="963.4" font-size="29.5" text-anchor="middle" fill="#000">10</text>
<text x="872.7" y="963.4" font-size="29.5" text-anchor="middle" fill="#000">30</text>
<text x="946.5" y="963.4" font-size="29.5" text-anchor="middle" fill="#000">50</text>
<text x="1057.4" y="963.4" font-size="29.5" text-anchor="middle" fill="#000">10</text>
<text x="1130.7" y="963.4" font-size="29.5" text-anchor="middle" fill="#000">30</text>
<text x="1205" y="963.4" font-size="29.5" text-anchor="middle" fill="#000">50</text>
<text x="714" y="1003.6" font-size="29.3" fill="#000">Percent abundance (%)</text>
<text x="0" y="0" font-size="28.85" font-style="italic" transform="translate(1281.3,241) rotate(-45)">Ovoidites</text>
<text x="0" y="0" font-size="28.85" font-style="italic" transform="translate(1324.3,243) rotate(-45)">Spirogyra/Zygnema</text>
<text x="0" y="0" font-size="28.85" transform="translate(1374.5,240) rotate(-45)">Dinoflagellates</text>
<text x="0" y="0" font-size="28.85" transform="translate(1418.3,239.8) rotate(-45)">Foraminifera</text>
<circle cx="1280.3" cy="250.6" r="6.1" fill="#0000cc"/>
<circle cx="1280.3" cy="323.9" r="6.1" fill="#0000cc"/>
<circle cx="1280.3" cy="335.2" r="6.1" fill="#0000cc"/>
<circle cx="1280.3" cy="573.7" r="6.1" fill="#0000cc"/>
<circle cx="1280.3" cy="708.4" r="6.1" fill="#0000cc"/>
<circle cx="1280.3" cy="713.1" r="6.1" fill="#0000cc"/>
<circle cx="1280.3" cy="721" r="6.1" fill="#0000cc"/>
<circle cx="1280.3" cy="731.4" r="6.1" fill="#0000cc"/>
<circle cx="1280.3" cy="742.1" r="6.1" fill="#0000cc"/>
<circle cx="1280.3" cy="752.8" r="6.1" fill="#0000cc"/>
<circle cx="1280.3" cy="795.9" r="6.1" fill="#0000cc"/>
<circle cx="1280.3" cy="820.1" r="6.1" fill="#0000cc"/>
<circle cx="1280.3" cy="842.8" r="6.1" fill="#0000cc"/>
<circle cx="1328.4" cy="309.3" r="6.1" fill="#0000cc"/>
<circle cx="1328.4" cy="324.4" r="6.1" fill="#0000cc"/>
<circle cx="1328.4" cy="337" r="6.1" fill="#0000cc"/>
<circle cx="1315.6" cy="640.7" r="6.1" fill="#0000cc"/>
<circle cx="1315.6" cy="647.6" r="6.1" fill="#0000cc"/>
<circle cx="1315.6" cy="707.5" r="6.1" fill="#0000cc"/>
<circle cx="1315.6" cy="718.8" r="6.1" fill="#0000cc"/>
<circle cx="1315.6" cy="728.9" r="6.1" fill="#0000cc"/>
<circle cx="1315.6" cy="736.7" r="6.1" fill="#0000cc"/>
<circle cx="1370" cy="250.1" r="6.1" fill="#000"/>
<circle cx="1370" cy="266.4" r="6.1" fill="#000"/>
<circle cx="1370" cy="279.5" r="6.1" fill="#000"/>
<circle cx="1370" cy="291.1" r="6.1" fill="#000"/>
<circle cx="1370" cy="299.9" r="6.1" fill="#000"/>
<circle cx="1370" cy="319.3" r="6.1" fill="#000"/>
<circle cx="1370" cy="367.2" r="6.1" fill="#000"/>
<circle cx="1370" cy="450.8" r="6.1" fill="#000"/>
<circle cx="1370" cy="515.7" r="6.1" fill="#000"/>
<circle cx="1370" cy="576.2" r="6.1" fill="#000"/>
<circle cx="1370" cy="650.2" r="6.1" fill="#000"/>
<circle cx="1370" cy="688.9" r="6.1" fill="#000"/>
<circle cx="1370" cy="706.8" r="6.1" fill="#000"/>
<circle cx="1417.6" cy="269" r="6.1" fill="#000"/>
<circle cx="1417.6" cy="316.8" r="6.1" fill="#000"/>
<circle cx="1417.6" cy="327.4" r="6.1" fill="#000"/>
<circle cx="1417.6" cy="690.5" r="6.1" fill="#000"/>
<circle cx="1417.6" cy="709.3" r="6.1" fill="#000"/>
<circle cx="1417.6" cy="717.8" r="6.1" fill="#000"/>
<circle cx="1417.6" cy="728.2" r="6.1" fill="#000"/>
<circle cx="1417.6" cy="738.3" r="6.1" fill="#000"/>
<circle cx="1417.6" cy="747.7" r="6.1" fill="#000"/>
<circle cx="1417.6" cy="757.8" r="6.1" fill="#000"/>
<circle cx="1417.6" cy="763.5" r="6.1" fill="#000"/>
<circle cx="1417.6" cy="785.5" r="6.1" fill="#000"/>
<text x="1381.4" y="1005.6" font-size="29.3" text-anchor="middle" fill="#000">Presence</text>
<text x="0" y="0" font-size="28.85" transform="translate(1590.2,219) rotate(-45)">Terrestrial</text>
<text x="0" y="0" font-size="28.85" transform="translate(1632.5,217.8) rotate(-45)">Freshwater</text>
<text x="0" y="0" font-size="28.85" transform="translate(1672,217.8) rotate(-45)">Supratidal mudflat</text>
<text x="0" y="0" font-size="28.85" transform="translate(1709.4,217.8) rotate(-45)">Nearshore</text>
<text x="0" y="0" font-size="28.85" transform="translate(1751,218.5) rotate(-45)">Inner estuary</text>
<text x="0" y="0" font-size="28.85" transform="translate(1791.7,218.5) rotate(-45)">Inner to mid-estuary</text>
<text x="0" y="0" font-size="28.85" transform="translate(1831.9,218.5) rotate(-45)">Mid to outer estuary</text>
<ellipse cx="1596.5" cy="232.7" rx="8.6" ry="7.9" fill="#686868"/>
<ellipse cx="1627" cy="232.8" rx="7.1" ry="6.4" fill="#cad7ef"/>
<ellipse cx="1661" cy="232.8" rx="7.1" ry="6.4" fill="#c0956a"/>
<ellipse cx="1700.8" cy="232.8" rx="7.1" ry="6.4" fill="#00a99d"/>
<ellipse cx="1738.1" cy="232.8" rx="7.1" ry="6.4" fill="#b3b3b3"/>
<ellipse cx="1776" cy="232.8" rx="7.1" ry="6.4" fill="#7aaedd"/>
<ellipse cx="1810" cy="232.8" rx="7.1" ry="6.4" fill="#2e3192"/>
<line x1="1621" y1="274.2" x2="1752" y2="274.2" stroke="#636363" stroke-width="3.5"/>
<path d="M1745.2,257.3 L1751.2,274.3 L1745.2,291.2 Q1761,280.6 1775.4,274.3 Q1761,268 1745.2,257.3 Z" fill="#636363"/>
<text x="1587.27" y="323.2" font-size="25.2" fill="#000">Increasing distance</text>
<text x="1587.94" y="353" font-size="25.2" fill="#000">from shore</text>
<text x="1698" y="565.4" font-size="25.2" text-anchor="middle" fill="#000">Samples not</text>
<text x="1698" y="595.35" font-size="25.2" text-anchor="middle" fill="#000">systematically</text>
<text x="1698" y="625.3" font-size="25.2" text-anchor="middle" fill="#000">examined for mollusks</text>
<text x="1698" y="655.25" font-size="25.2" text-anchor="middle" fill="#000">above 136 cm</text>
<line x1="1578" y1="680" x2="1820" y2="680" stroke="#999999" stroke-width="2.6" stroke-dasharray="10.4 20.05 19.8 20.05 19.8 20.05 19.8 20.05 19.8 20.05 19.8 20.05 10.4 40"/>
<ellipse cx="1600" cy="740.8" rx="7.0" ry="6.5" fill="#686868"/>
<ellipse cx="1600" cy="775.1" rx="7.0" ry="6.5" fill="#686868"/>
<ellipse cx="1600" cy="780.3" rx="7.0" ry="6.5" fill="#686868"/>
<ellipse cx="1625.5" cy="709" rx="7.0" ry="6.5" fill="#cad7ef"/>
<ellipse cx="1625.5" cy="715.5" rx="7.0" ry="6.5" fill="#cad7ef"/>
<ellipse cx="1625.5" cy="722" rx="7.0" ry="6.5" fill="#cad7ef"/>
<ellipse cx="1625.5" cy="728.5" rx="7.0" ry="6.5" fill="#cad7ef"/>
<ellipse cx="1625.5" cy="735" rx="7.0" ry="6.5" fill="#cad7ef"/>
<ellipse cx="1625.5" cy="753" rx="7.0" ry="6.5" fill="#cad7ef"/>
<ellipse cx="1625.5" cy="759" rx="7.0" ry="6.5" fill="#cad7ef"/>
<ellipse cx="1625.5" cy="765" rx="7.0" ry="6.5" fill="#cad7ef"/>
<ellipse cx="1625.5" cy="771" rx="7.0" ry="6.5" fill="#cad7ef"/>
<ellipse cx="1625.5" cy="777" rx="7.0" ry="6.5" fill="#cad7ef"/>
<ellipse cx="1625.5" cy="783" rx="7.0" ry="6.5" fill="#cad7ef"/>
<ellipse cx="1624" cy="830" rx="7.0" ry="6.5" fill="#cad7ef"/>
<ellipse cx="1624" cy="837.08" rx="7.0" ry="6.5" fill="#cad7ef"/>
<ellipse cx="1624" cy="844.15" rx="7.0" ry="6.5" fill="#cad7ef"/>
<ellipse cx="1624" cy="851.23" rx="7.0" ry="6.5" fill="#cad7ef"/>
<ellipse cx="1624" cy="858.31" rx="7.0" ry="6.5" fill="#cad7ef"/>
<ellipse cx="1624" cy="865.38" rx="7.0" ry="6.5" fill="#cad7ef"/>
<ellipse cx="1624" cy="872.46" rx="7.0" ry="6.5" fill="#cad7ef"/>
<ellipse cx="1624" cy="879.54" rx="7.0" ry="6.5" fill="#cad7ef"/>
<ellipse cx="1624" cy="886.62" rx="7.0" ry="6.5" fill="#cad7ef"/>
<ellipse cx="1624" cy="893.69" rx="7.0" ry="6.5" fill="#cad7ef"/>
<ellipse cx="1624" cy="900.77" rx="7.0" ry="6.5" fill="#cad7ef"/>
<ellipse cx="1624" cy="907.85" rx="7.0" ry="6.5" fill="#cad7ef"/>
<ellipse cx="1624" cy="914.92" rx="7.0" ry="6.5" fill="#cad7ef"/>
<ellipse cx="1624" cy="922" rx="7.0" ry="6.5" fill="#cad7ef"/>
<ellipse cx="1661.1" cy="697.5" rx="7.0" ry="6.5" fill="#c0956a"/>
<ellipse cx="1661.1" cy="704.25" rx="7.0" ry="6.5" fill="#c0956a"/>
<ellipse cx="1661.1" cy="711" rx="7.0" ry="6.5" fill="#c0956a"/>
<ellipse cx="1661.1" cy="717.75" rx="7.0" ry="6.5" fill="#c0956a"/>
<ellipse cx="1661.1" cy="724.5" rx="7.0" ry="6.5" fill="#c0956a"/>
<ellipse cx="1661.1" cy="731.25" rx="7.0" ry="6.5" fill="#c0956a"/>
<ellipse cx="1661.1" cy="738" rx="7.0" ry="6.5" fill="#c0956a"/>
<ellipse cx="1661.1" cy="744.75" rx="7.0" ry="6.5" fill="#c0956a"/>
<ellipse cx="1661.1" cy="751.5" rx="7.0" ry="6.5" fill="#c0956a"/>
<ellipse cx="1661.1" cy="758.25" rx="7.0" ry="6.5" fill="#c0956a"/>
<ellipse cx="1661.1" cy="765" rx="7.0" ry="6.5" fill="#c0956a"/>
<ellipse cx="1661.1" cy="771.75" rx="7.0" ry="6.5" fill="#c0956a"/>
<ellipse cx="1661.1" cy="778.5" rx="7.0" ry="6.5" fill="#c0956a"/>
<ellipse cx="1661.1" cy="785.25" rx="7.0" ry="6.5" fill="#c0956a"/>
<ellipse cx="1661.1" cy="792" rx="7.0" ry="6.5" fill="#c0956a"/>
<ellipse cx="1700.6" cy="711" rx="7.0" ry="6.5" fill="#00a99d"/>
<ellipse cx="1700.6" cy="716" rx="7.0" ry="6.5" fill="#00a99d"/>
<ellipse cx="1700.6" cy="731.6" rx="7.0" ry="6.5" fill="#00a99d"/>
<ellipse cx="1700.6" cy="752" rx="7.0" ry="6.5" fill="#00a99d"/>
<ellipse cx="1700.6" cy="758.2" rx="7.0" ry="6.5" fill="#00a99d"/>
<ellipse cx="1700.6" cy="764.4" rx="7.0" ry="6.5" fill="#00a99d"/>
<ellipse cx="1700.6" cy="770.6" rx="7.0" ry="6.5" fill="#00a99d"/>
<ellipse cx="1700.6" cy="776.8" rx="7.0" ry="6.5" fill="#00a99d"/>
<ellipse cx="1700.6" cy="783" rx="7.0" ry="6.5" fill="#00a99d"/>
<ellipse cx="1737.7" cy="779.7" rx="7.0" ry="6.5" fill="#b3b3b3"/>
<ellipse cx="1761" cy="709" rx="7.0" ry="6.5" fill="#7aaedd"/>
<ellipse cx="1761" cy="716" rx="7.0" ry="6.5" fill="#7aaedd"/>
<ellipse cx="1761" cy="735" rx="7.0" ry="6.5" fill="#7aaedd"/>
<ellipse cx="1761" cy="750" rx="7.0" ry="6.5" fill="#7aaedd"/>
<ellipse cx="1761" cy="756.6" rx="7.0" ry="6.5" fill="#7aaedd"/>
<ellipse cx="1761" cy="763.2" rx="7.0" ry="6.5" fill="#7aaedd"/>
<ellipse cx="1761" cy="769.8" rx="7.0" ry="6.5" fill="#7aaedd"/>
<ellipse cx="1761" cy="776.4" rx="7.0" ry="6.5" fill="#7aaedd"/>
<ellipse cx="1761" cy="783" rx="7.0" ry="6.5" fill="#7aaedd"/>
<ellipse cx="1796.2" cy="765" rx="7.0" ry="6.5" fill="#2e3192"/>
<ellipse cx="1796.2" cy="772" rx="7.0" ry="6.5" fill="#2e3192"/>
<ellipse cx="1796.2" cy="782.5" rx="7.0" ry="6.5" fill="#2e3192"/>
<rect x="1654" y="703.5" width="15.3" height="14.4" fill="#c0956a" stroke="#e8202a" stroke-width="1.6"/>
<rect x="1654" y="717.9" width="15.3" height="13.3" fill="#c0956a" stroke="#e8202a" stroke-width="1.6"/>
<rect x="1654" y="731.2" width="15.3" height="13.3" fill="#c0956a" stroke="#e8202a" stroke-width="1.6"/>
<rect x="1691.8" y="771" width="16.4" height="16.4" fill="#00a99d" stroke="#e8202a" stroke-width="1.6"/>
<rect x="1615.7" y="823.2" width="15.8" height="17.4" fill="#cad7ef" stroke="#e8202a" stroke-width="1.6"/>
<text x="1701.6" y="1005.6" font-size="29.3" text-anchor="middle" fill="#000">Presence</text>
<text x="1945.4" y="299" font-size="25.2" text-anchor="middle" fill="#000">Island</text>
<text x="1944.7" y="329.2" font-size="25.2" text-anchor="middle">(<tspan font-style="italic">Avicennia</tspan>)</text>
<text x="1945.4" y="521.1" font-size="25.2" text-anchor="middle" fill="#000">Island</text>
<text x="1945.4" y="551.2" font-size="25.2" text-anchor="middle" fill="#000">interior</text>
<text x="1860.6" y="750.5" font-size="25.4">Mangrove (<tspan font-style="italic">Av</tspan>)</text>
<text x="1853.3" y="792.8" font-size="25.4">Mangrove (<tspan font-style="italic">Rhz</tspan>)</text>
<text x="1874.33" y="874.5" font-size="25.2" fill="#000">Freshwater</text>
<rect x="255" y="1123.4" width="47" height="35.1" fill="#7e4b00" stroke="#000" stroke-width="1.8"/>
<text x="312.9" y="1151" font-size="29.3" fill="#000">Peat</text>
<rect x="581.7" y="1124.1" width="46.3" height="34.9" fill="#787878" stroke="#000" stroke-width="1.8"/>
<text x="641.2" y="1151.5" font-size="29.3" fill="#000">Marl (freshwater)</text>
<rect x="974.1" y="1122.9" width="44.2" height="34" fill="url(#gr2)" stroke="#000" stroke-width="1.8"/>
<text x="1030.41" y="1149.5" font-size="29.3" fill="#000">Carbonate mud with few organics,</text>
<text x="1030.67" y="1184.1" font-size="29.3" fill="#000">grading to carbonate mud</text>
<rect x="255.7" y="1207.3" width="48" height="34.2" fill="#b38a50" stroke="#000" stroke-width="1.8"/>
<text x="313.21" y="1235.3" font-size="29.3" fill="#000">Organic-rich</text>
<text x="313.36" y="1271.3" font-size="29.3" fill="#000">carbonate mud</text>
<rect x="582.6" y="1207.3" width="46.9" height="35.6" fill="#c4c4c4" stroke="#000" stroke-width="1.8"/>
<text x="641.91" y="1235.3" font-size="29.3" fill="#000">Carbonate mud</text>
</svg></body></html>
